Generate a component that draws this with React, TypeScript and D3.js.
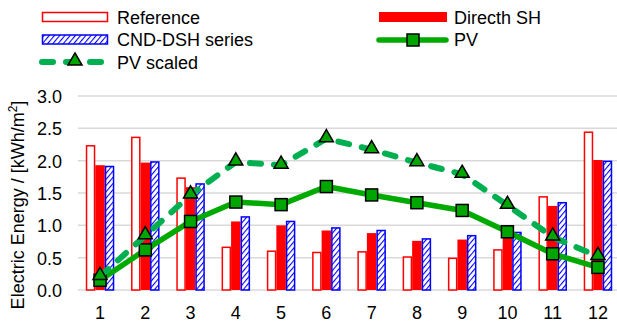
import React from "react";
import * as d3 from "d3";

const months = ["1", "2", "3", "4", "5", "6", "7", "8", "9", "10", "11", "12"];
const referenceVals = [2.23, 2.36, 1.73, 0.66, 0.6, 0.58, 0.59, 0.51, 0.49, 0.62, 1.44, 2.44];
const directSHVals = [1.93, 1.97, 1.59, 1.06, 1.0, 0.92, 0.88, 0.76, 0.78, 0.86, 1.3, 2.01];
const cndVals = [1.91, 1.98, 1.64, 1.13, 1.06, 0.96, 0.92, 0.79, 0.84, 0.89, 1.35, 1.99];
const pvVals = [0.15, 0.62, 1.06, 1.36, 1.32, 1.6, 1.47, 1.35, 1.23, 0.9, 0.56, 0.35];
const pvScaledVals = [0.21, 0.84, 1.47, 1.98, 1.93, 2.34, 2.17, 1.97, 1.79, 1.31, 0.82, 0.52];
const yTicks = [0, 0.5, 1.0, 1.5, 2.0, 2.5, 3.0];

const W = 617;
const H = 322;
const FONT = "'Liberation Sans', Arial, sans-serif";
const PV_COLOR = "#00AA00";
const PVS_COLOR = "#00B050";
const MARK_FILL = "#00A600";

export default function App() {
  const x = d3.scaleBand<string>().domain(months).range([77.4, 620.6]).paddingInner(0.37).paddingOuter(0.185);
  const sub = d3.scaleBand<string>().domain(["ref", "dsh", "cnd"]).range([0, x.bandwidth()]);
  const y = d3.scaleLinear().domain([0, 3]).range([290, 96]);
  const cx = (m: string) => (x(m) as number) + x.bandwidth() / 2;

  const line = d3.line<number>().x((_, i) => cx(months[i])).y((v) => y(v));
  const sym = d3.symbol().type(d3.symbolTriangle).size(85);
  const triPath = sym() as string;

  return (
    <svg width={W} height={H} style={{ position: "absolute", left: 0, top: 0 }} fontFamily={FONT}>
      <defs>
        <pattern id="hatch" patternUnits="userSpaceOnUse" width="4" height="4" patternTransform="rotate(40)">
          <rect width="4" height="4" fill="#fff" />
          <line x1="0" y1="0" x2="0" y2="4" stroke="#0000FF" strokeWidth="2.2" />
        </pattern>
      </defs>
      <rect width={W} height={H} fill="#fff" />

      {/* grid */}
      {yTicks.map((t) => (
        <line key={t} x1={78} x2={W} y1={y(t)} y2={y(t)} stroke="#D9D9D9" strokeWidth={1.5} />
      ))}
      {yTicks.map((t) => (
        <text key={"l" + t} x={62} y={y(t) + 7} textAnchor="end" fontSize={18} fill="#000">
          {t.toFixed(1)}
        </text>
      ))}
      {months.map((m) => (
        <text key={"x" + m} x={cx(m)} y={319} textAnchor="middle" fontSize={18} fill="#000">
          {m}
        </text>
      ))}
      <text transform={`translate(24,205) rotate(-90)`} textAnchor="middle" fontSize={18} fill="#000">
        Electric Energy / [kWh/m<tspan baselineShift="super" fontSize={12}>2</tspan>]
      </text>

      {/* bars */}
      {months.map((m, i) => {
        const x0 = x(m) as number;
        const bw = sub.bandwidth();
        return (
          <g key={"b" + m}>
            <rect x={x0 + (sub("ref") as number) + 0.75} y={y(referenceVals[i])} width={bw - 1.5} height={y(0) - y(referenceVals[i])} fill="#fff" stroke="#FF0000" strokeWidth={1.5} />
            <rect x={x0 + (sub("dsh") as number)} y={y(directSHVals[i])} width={bw} height={y(0) - y(directSHVals[i])} fill="#FF0000" />
            <rect x={x0 + (sub("cnd") as number) + 0.75} y={y(cndVals[i])} width={bw - 1.5} height={y(0) - y(cndVals[i])} fill="url(#hatch)" stroke="#0000FF" strokeWidth={1.5} />
          </g>
        );
      })}

      {/* PV line */}
      <path d={line(pvVals) as string} fill="none" stroke={PV_COLOR} strokeWidth={5.5} strokeLinejoin="round" />
      {pvVals.map((v, i) => (
        <rect key={"s" + i} x={cx(months[i]) - 6} y={y(v) - 6} width={12} height={12} fill={MARK_FILL} stroke="#000" strokeWidth={1.5} />
      ))}

      {/* PV scaled */}
      <path d={line(pvScaledVals) as string} fill="none" stroke={PVS_COLOR} strokeWidth={6} strokeDasharray="11,13" strokeLinecap="round" />
      {pvScaledVals.map((v, i) => (
        <path key={"t" + i} d={triPath} transform={`translate(${cx(months[i])},${y(v) - 1})`} fill={MARK_FILL} stroke="#000" strokeWidth={1.5} />
      ))}

      {/* legend */}
      <rect x={42.5} y={12.5} width={65} height={9} fill="#fff" stroke="#FF0000" strokeWidth={1.5} />
      <text x={117} y={23.5} fontSize={18}>Reference</text>
      <rect x={42.5} y={35} width={65} height={9} fill="url(#hatch)" stroke="#0000FF" strokeWidth={1.5} />
      <text x={117} y={46} fontSize={18}>CND-DSH series</text>
      <line x1={42} x2={104} y1={62} y2={62} stroke={PVS_COLOR} strokeWidth={6} strokeDasharray="11,13" strokeLinecap="round" />
      <path d={triPath} transform="translate(75,61)" fill={MARK_FILL} stroke="#000" strokeWidth={1.5} />
      <text x={117} y={68.5} fontSize={18}>PV scaled</text>

      <rect x={379} y={12} width={68} height={10} fill="#FF0000" />
      <text x={454} y={23.5} fontSize={18}>Directh SH</text>
      <line x1={379} x2={446} y1={40} y2={40} stroke={PV_COLOR} strokeWidth={5.5} strokeLinecap="round" />
      <rect x={407} y={34} width={12} height={12} fill={MARK_FILL} stroke="#000" strokeWidth={1.5} />
      <text x={454} y={46} fontSize={18}>PV</text>
    </svg>
  );
}
